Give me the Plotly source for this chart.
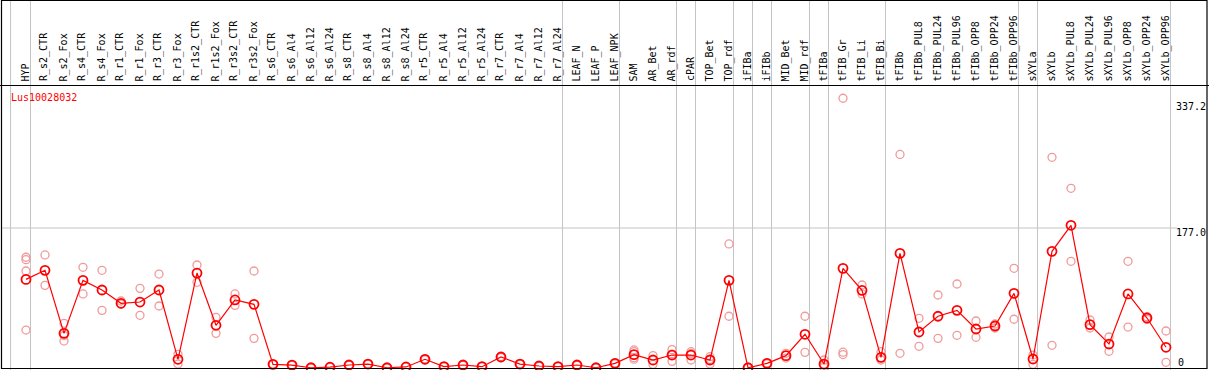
import plotly.graph_objects as go

categories = ["HYP", "R_s2_CTR", "R_s2_Fox", "R_s4_CTR", "R_s4_Fox", "R_r1_CTR", "R_r1_Fox",
              "R_r3_CTR", "R_r3_Fox", "R_r1s2_CTR", "R_r1s2_Fox", "R_r3s2_CTR", "R_r3s2_Fox",
              "R_s6_CTR", "R_s6_Al4", "R_s6_Al12", "R_s6_Al24", "R_s8_CTR", "R_s8_Al4", "R_s8_Al12",
              "R_s8_Al24", "R_r5_CTR", "R_r5_Al4", "R_r5_Al12", "R_r5_Al24", "R_r7_CTR", "R_r7_Al4",
              "R_r7_Al12", "R_r7_Al24", "LEAF_N", "LEAF_P", "LEAF_NPK", "SAM", "AR_Bet", "AR_rdf",
              "cPAR", "TOP_Bet", "TOP_rdf", "iFIBa", "iFIBb", "MID_Bet", "MID_rdf", "tFIBa",
              "tFIB_Gr", "tFIB_Li", "tFIB_Bi", "tFIBb", "tFIBb_PUL8", "tFIBb_PUL24", "tFIBb_PUL96",
              "tFIBb_OPP8", "tFIBb_OPP24", "tFIBb_OPP96", "sXYLa", "sXYLb", "sXYLb_PUL8",
              "sXYLb_PUL24", "sXYLb_PUL96", "sXYLb_OPP8", "sXYLb_OPP24", "sXYLb_OPP96"]

mean_values = [112, 123.5, 43.8, 110.8, 98.6, 81.8, 83.4, 98.6, 11, 120, 54, 86, 80.5,
               4.6, 3.6, 0.3, 1, 3.8, 5, 0.3, 1.3, 11, 1.7, 3.8, 1.7, 13.9, 5, 2.5, 1.7,
               3.8, 0.3, 5.9, 16.9, 10.1, 16.4, 16.4, 10.1, 110.8, 0.3, 5.9, 15.6, 42.6, 5,
               126, 98.2, 13.5, 145, 45.5, 65.4, 72.9, 49.3, 53.1, 94.4, 11.4, 147.5, 180.4,
               54.8, 30.3, 93.6, 63.2, 26.2]

replicate_values = [
    [140, 137, 122.6, 48], [142.9, 104.5], [56.5, 34.1, 41], [127.3, 93.6], [123.5, 72.9],
    [84.7, 80.9], [100.7, 66.6], [118.8, 78.4], [17.3, 5], [130.2, 108.3], [64, 43.8],
    [93.6, 79.2], [122.6, 37.5],
    [4.2, 5.0], [3.2, 4.0], [0.1, 0.5], [0.7, 1.3], [3.4, 4.2], [4.6, 5.4], [0.1, 0.5],
    [1.0, 1.6], [10.4, 11.6], [1.4, 2.0], [3.4, 4.2], [1.4, 2.0], [13.2, 14.6], [4.6, 5.4],
    [2.1, 2.9], [1.4, 2.0], [3.4, 4.2], [0.1, 0.5], [5.4, 6.4],
    [22.8, 20.6, 13, 11.2], [15.6, 4.6], [23.2, 8.4, 17.6], [20.6, 10.1, 18.5],
    [14.3, 5, 11], [156.8, 65.4], [0.1, 0.5], [5.4, 6.4], [18.6, 12.6], [65.4, 19.8],
    [10.1, 1, 4], [341, 20, 17], [104.9, 93.6], [20.6, 10.1], [270, 18.6], [62.8, 27.4],
    [92.3, 37.5], [106.2, 41.3], [59.4, 38.8], [55.6, 50.6], [126, 61.6], [16.4, 4.6],
    [266.4, 28.7], [227.2, 134.9], [60.7, 50.6], [39.2, 21.1], [134.9, 51.8], [64.9, 61.5],
    [46.8, 7.2]]

separator_after = [-1.05, 0, 28, 31, 34, 35, 37, 38, 39, 41, 42, 45, 52, 53, 60]
y_tick_values = [337.2, 177.0, 0]
y_tick_labels = ["337.2", "177.0", "0"]
gene_name = "Lus10028032"

W, H = 1209, 370
PX_X = 19.0          # pixels per category
X0_PX = 26.0         # pixel of first category
PX_Y = 0.791         # pixels per unit
ZERO_PX = 368.0      # pixel of zero value

x_range = [-X0_PX / PX_X, (W - X0_PX) / PX_X]
y_range = [-(H - ZERO_PX) / PX_Y, ZERO_PX / PX_Y]


def py(p):
    return 1 - p / H


def px(p):
    return p / W


xs = list(range(len(categories)))
rx, ry = [], []
for i, reps in enumerate(replicate_values):
    for v in reps:
        rx.append(i)
        ry.append(v)

fig = go.Figure()
fig.add_trace(go.Scatter(x=rx, y=ry, mode="markers",
                         marker=dict(symbol="circle-open", size=8, color="#f09a9a",
                                     line=dict(width=1.3, color="#f09a9a")),
                         hoverinfo="skip", showlegend=False, cliponaxis=True))
fig.add_trace(go.Scatter(x=xs, y=mean_values, mode="lines+markers",
                         line=dict(color="#ff0000", width=1.2),
                         marker=dict(symbol="circle-open", size=9, color="#ff0000",
                                     line=dict(width=1.8, color="#ff0000")),
                         showlegend=False, cliponaxis=True))

shapes = []
gray = "#c4c4c4"
shapes.append(dict(type="line", xref="paper", yref="y", x0=px(1), x1=px(1177),
                   y0=177.0, y1=177.0, line=dict(color=gray, width=1), layer="below"))
for s in separator_after:
    xv = s + 4.5 / PX_X
    shapes.append(dict(type="line", xref="x", yref="paper", x0=xv, x1=xv, y0=0, y1=1,
                       line=dict(color=gray, width=1), layer="below"))
shapes.append(dict(type="line", xref="paper", yref="paper", x0=0, x1=1, y0=py(85.5), y1=py(85.5),
                   line=dict(color="black", width=1)))
shapes.append(dict(type="rect", xref="paper", yref="paper", x0=px(1.5), x1=px(1207),
                   y0=py(368.5), y1=py(0.5), line=dict(color="black", width=1.2)))

annotations = []
mono = "DejaVu Sans Mono"
for i, c in enumerate(categories):
    annotations.append(dict(x=i - 1.0 / PX_X, y=py(83.5), xref="x", yref="paper", text=c,
                            textangle=-90, showarrow=False, xanchor="center", yanchor="bottom",
                            font=dict(family=mono, size=10, color="black")))
annotations.append(dict(x=px(9), y=py(97), xref="paper", yref="paper", text=gene_name,
                        showarrow=False, xanchor="left", yanchor="middle",
                        font=dict(family=mono, size=10, color="#ff0000")))
label_px = {337.2: 107, 177.0: 232, 0: 362.5}
for v, t in zip(y_tick_values, y_tick_labels):
    if v == 0:
        annotations.append(dict(x=px(1181), y=py(label_px[v]), xref="paper", yref="paper", text=t,
                                showarrow=False, xanchor="center", yanchor="middle",
                                font=dict(family=mono, size=10, color="black")))
    else:
        annotations.append(dict(x=px(1208), y=py(label_px[v]), xref="paper", yref="paper", text=t,
                                showarrow=False, xanchor="right", yanchor="middle",
                                font=dict(family=mono, size=10, color="black")))

fig.update_layout(
    width=W, height=H, margin=dict(l=0, r=0, t=0, b=0, pad=0),
    paper_bgcolor="white", plot_bgcolor="white",
    xaxis=dict(range=x_range, showgrid=False, zeroline=False, showticklabels=False,
               ticks="", fixedrange=True),
    yaxis=dict(range=y_range, showgrid=False, zeroline=False, showticklabels=False,
               ticks="", fixedrange=True),
    shapes=shapes, annotations=annotations, showlegend=False,
)

fig.write_html("out.html", config={"displayModeBar": False},
               post_script="document.body.style.margin='0';document.body.style.padding='0';"
                           "document.documentElement.style.overflow='hidden';")
